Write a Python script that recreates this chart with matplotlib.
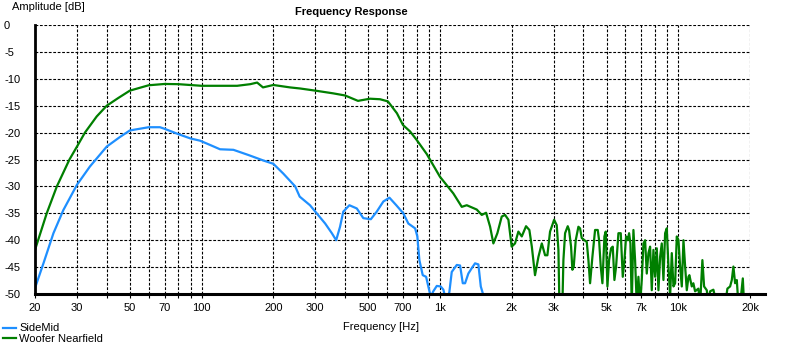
import numpy as np
import matplotlib
matplotlib.use('Agg')
import matplotlib.pyplot as plt
from matplotlib.ticker import FixedLocator, NullFormatter

plt.rcParams['font.family'] = ['Liberation Sans', 'DejaVu Sans']

# Woofer Nearfield (green)
woofer_f = [20, 22.4, 24.7, 27.9, 30, 32.4, 36.3, 40, 44.6, 50, 60, 70, 80, 100,
            141, 160, 171, 181, 200, 235, 259, 300, 356, 400, 453, 509, 561, 605,
            660, 700, 750, 800, 881, 936, 1000, 1138, 1235, 1296, 1427, 1498, 1562,
            1624, 1676, 1742, 1817, 1876, 1938, 2000, 2066, 2134, 2205, 2298, 2373,
            2430, 2506, 2590, 2676, 2762, 2824, 2898, 3014,
            3091, 3142, 3172, 3265, 3297, 3351, 3438, 3482, 3550, 3596, 3643, 3714,
            3811, 3873, 3936, 4039, 4131, 4198, 4266, 4363, 4477, 4594, 4654, 4729,
            4806, 4900, 4963, 5044, 5126, 5226, 5311, 5397, 5485, 5610, 5738, 5850,
            5945, 6041, 6139, 6219, 6300, 6381, 6485, 6590, 6697, 6806, 6917, 7029,
            7143, 7259, 7377, 7497, 7619, 7743, 7868, 7996, 8126, 8258, 8392, 8528,
            8667, 8808, 8951, 9096, 9244, 9394, 9547, 9702, 9859, 10020, 10182, 10348,
            10516, 10687, 10860, 11037,
            11136, 11396, 11572, 11766, 12146, 12348, 12626,
            12836, 13174, 13380, 13602, 14042, 14512, 15726, 16078, 16504, 16776,
            17036, 17320, 17606, 17880, 18176, 18658, 18892]
woofer_db = [-41.8, -35, -30, -25, -22.6, -20, -17, -15, -13.6, -12.2, -11.2, -10.96, -11.0, -11.3,
             -11.3, -11.0, -10.7, -11.6, -11.15, -11.6, -11.8, -12.2, -12.7, -13.1, -14.1, -13.7, -13.8, -14.2,
             -16.4, -18.6, -19.8, -21.4, -24.0, -26.0, -28.2, -31.3, -33.8, -33.5, -34.3, -35.3, -34.9,
             -37.5, -40.6, -38.7, -35.6, -35.3, -36.2, -41.2, -40.6, -38.4, -39.3, -37.4, -38.1,
             -41.2, -46.5, -43.1, -40.6, -42.8, -42.8, -38.4, -36.2,
             -37.2, -41.8, -52, -52, -43.7, -38.7, -37.4, -38.1, -41.2, -45.5, -44.9, -40.0,
             -37.5, -37.8, -39.6, -40.0, -40.3, -43.7, -48.0, -43.1, -38.1, -38.1, -40.0, -44.9,
             -48.0, -39.3, -38.4, -48.6, -43.7, -41.5, -41.2, -47.4, -44.9, -38.7, -38.7, -46.8,
             -43.7, -39.3, -40.0, -38.7, -40.6, -52, -38.1, -43.7, -52, -46.8, -52, -47.4,
             -40.6, -40.0, -46.2, -42.4, -41.2, -49.3, -41.8, -46.8, -41.5, -49.3, -43.1, -40.6,
             -47.4, -38.7, -37.8, -44.9, -50.5, -42.4, -48.6, -48.0, -39.3, -40.0, -44.9, -48.6,
             -40.0, -44.9, -49.3, -46.8,
             -46.5, -48.6, -48.0, -49.5, -49.0, -52, -43.7,
             -48.6, -49.3, -52, -49.5, -49.2, -52, -52, -49.0, -48.6, -47.4,
             -44.9, -48.0, -47.4, -52, -52, -47.1, -52]

# SideMid (blue)
side_f = [20, 21.7, 23.9, 26.3, 30, 34.0, 40, 45.5, 50, 60, 66.9, 70, 80, 90, 98.5,
          108.6, 119.5, 136, 158, 182, 200, 220, 247, 258, 285, 304, 330, 352, 367,
          381, 393, 417, 448, 477, 513, 543, 579, 614, 656, 702, 737, 787, 804, 820,
          847, 875, 894, 915, 938, 970, 1008, 1034, 1051, 1074, 1095, 1121, 1177,
          1215, 1247, 1275, 1316, 1360, 1404, 1450, 1484, 1521, 1624, 1704]
side_db = [-48.9, -44.3, -38.7, -34.4, -29.7, -26.3, -22.6, -20.8, -19.6, -19.0, -19.0, -19.3, -20.3, -21.1, -21.5,
           -22.3, -23.1, -23.2, -24.2, -25.2, -25.8, -27.6, -30.0, -31.9, -33.5, -35.0, -36.9, -38.7, -40.0,
           -37.5, -34.7, -33.5, -34.1, -35.9, -36.1, -34.7, -32.8, -32.1, -33.5, -35.0, -36.9, -37.8, -39.3, -43.7,
           -46.5, -46.8, -48.6, -50.5, -49.5, -48.5, -48.6, -49.2, -50.5, -50.5, -49.7, -45.9, -44.6,
           -44.7, -48.0, -48.0, -46.2, -45.2, -44.3, -44.5, -48.6, -50.2, -50.2, -50.1]

major_ticks = [20, 30, 50, 70, 100, 200, 300, 500, 700, 1000, 2000, 3000, 5000, 7000, 10000, 20000]
major_labels = ['20', '30', '50', '70', '100', '200', '300', '500', '700',
                '1k', '2k', '3k', '5k', '7k', '10k', '20k']
minor_ticks = [40, 60, 80, 90, 400, 600, 800, 900, 4000, 6000, 8000, 9000]
y_ticks = list(range(0, -55, -5))

fig = plt.figure(figsize=(8, 3.45), dpi=100)
ax = fig.add_axes([35/800, 1-294/345, 715/800, 269/345])

l1, = ax.plot(side_f, side_db, color='#1e8fff', lw=1.6, label='SideMid')
l2, = ax.plot(woofer_f, woofer_db, color='#007f00', lw=1.6, label='Woofer Nearfield')

ax.set_xscale('log')
ax.set_xlim(20, 20000)
ax.set_ylim(-50, 0)
ax.xaxis.set_major_locator(FixedLocator(major_ticks))
ax.xaxis.set_minor_locator(FixedLocator(minor_ticks))
ax.xaxis.set_minor_formatter(NullFormatter())
ax.set_xticklabels(major_labels)
ax.set_yticks(y_ticks)
ax.set_yticklabels([str(v) for v in y_ticks], ha='left')

ax.grid(True, which='both', color='black', linestyle=(0, (2.5, 1.5)), lw=0.8)
ax.set_axisbelow(True)
ax.tick_params(axis='x', which='both', length=3, width=0.8, color='black', labelsize=8, pad=3.5)
ax.tick_params(axis='y', length=0, labelsize=8, pad=22.3)

for s in ['top', 'right']:
    ax.spines[s].set_visible(False)
ax.spines['left'].set_linewidth(2)
ax.spines['bottom'].set_visible(False)
ax.plot([0, 730/715], [0, 0], transform=ax.transAxes, color='black', lw=2.2, clip_on=False)

fig.text(351/800, 1-12/345, 'Frequency Response', ha='center', va='center',
         fontsize=8, fontweight='bold')
fig.text(12/800, 1-7/345, 'Amplitude [dB]', ha='left', va='center', fontsize=8)
fig.text(381/800, 1-327/345, 'Frequency [Hz]', ha='center', va='center', fontsize=8)

fig.legend(handles=[l1, l2], loc='lower left', bbox_to_anchor=(3/800, 1/345),
           frameon=False, fontsize=8, handlelength=1.2, handletextpad=0.25,
           labelspacing=0.05, borderpad=0, borderaxespad=0)

fig.savefig('out.png', dpi=100)
